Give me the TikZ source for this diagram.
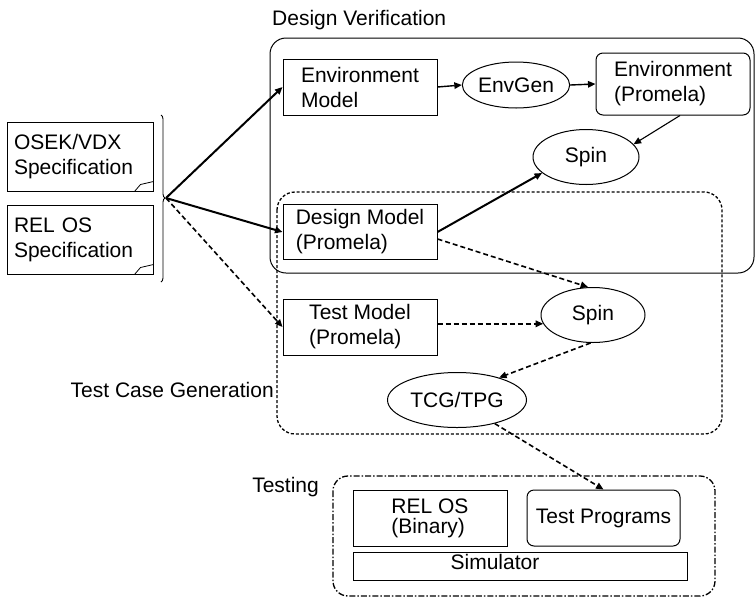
\documentclass[tikz,border=0pt]{standalone}
\usepackage{fontspec}
\setmainfont{Liberation Sans}
\usetikzlibrary{shapes.geometric,arrows.meta,decorations.pathreplacing}
\begin{document}
\begin{tikzpicture}[x=1pt,y=-1pt,
  font=\fontsize{21}{25}\selectfont,
  box/.style={draw, line width=1pt, rectangle, inner sep=0pt, align=left},
  rbox/.style={box, rounded corners=7pt},
  ell/.style={draw, line width=1pt, ellipse, inner sep=0pt},
  spec/.style={draw, line width=1pt, rectangle, inner sep=0pt, align=left, text width=132pt, minimum width=146pt, minimum height=69pt},
  arr/.style={-{Triangle[length=7.5pt,width=6.5pt]}, line width=1.4pt},
  thick arr/.style={arr, line width=2pt},
  dash arr/.style={arr, line width=1.6pt, dash pattern=on 5pt off 3pt},
  lbl/.style={inner sep=0pt}
]
\useasboundingbox (0,0) rectangle (755,598);

% containers
\draw[line width=1pt, rounded corners=16pt] (270,38) rectangle (754,273);
\draw[line width=1.3pt, rounded corners=18pt, dash pattern=on 3pt off 2pt] (277,192) rectangle (722,434);
\draw[line width=1.3pt, rounded corners=15pt, dash pattern=on 6pt off 2pt on 1.5pt off 2pt] (333,476) rectangle (715,596);

% labels
\node[lbl, anchor=west] (dvlbl) at (272,20) {Design Verification};
\node[lbl, anchor=east] (tcglbl) at (274,390) {Test Case Generation};
\node[lbl, anchor=east] (testlbl) at (319,487) {Testing};

% spec boxes
\node[spec] (s1) at (80,156.5) {OSEK/VDX\\Specification};
\node[spec] (s2) at (80,239.5) {REL OS\\Specification};
\draw[line width=0.8pt] (s1.south east) ++(-19,0) -- ++(6,-7) -- ++(13,-3);
\draw[line width=0.8pt] (s2.south east) ++(-19,0) -- ++(6,-7) -- ++(13,-3);

% brace
\draw[line width=0.9pt, decorate, decoration={brace, amplitude=4pt, aspect=0.497}] (161,115) -- (161,282);
\coordinate (bt) at (166,198);

% design verification nodes
\node[box, minimum width=154pt, minimum height=56pt] (envmodel) at (360,87) {Environment\\Model};
\node[ell, minimum width=105pt, minimum height=46pt] (envgen) at (516,85) {EnvGen};
\node[rbox, minimum width=154pt, minimum height=62pt] (envprom) at (673,84) {Environment\\(Promela)};
\node[ell, minimum width=106pt, minimum height=55pt] (spin1) at (586,157) {Spin};
\node[box, minimum width=154pt, minimum height=55pt] (designmodel) at (360,232) {Design Model\\(Promela)};

% test case generation nodes
\node[ell, minimum width=104pt, minimum height=55pt] (spin2) at (593,315) {Spin};
\node[box, minimum width=154pt, minimum height=56pt] (testmodel) at (360,327) {Test Model\\(Promela)};
\node[ell, minimum width=139pt, minimum height=55pt] (tcg) at (457,400) {TCG/TPG};

% testing nodes
\node[box, minimum width=154pt, minimum height=56pt, font=\fontsize{21}{20}\selectfont] (relos) at (430,518) {REL OS\\(Binary)};
\node[rbox, minimum width=153pt, minimum height=56pt] (testprog) at (603.5,518) {Test Programs};
\node[box, minimum width=334pt, minimum height=28pt] (sim) at (520,566) {};
\node[lbl] (simtext) at (495,562) {Simulator};

% connectors
\draw[thick arr] (bt) -- (envmodel.west);
\draw[thick arr] (bt) -- (designmodel.west);
\draw[dash arr] (bt) -- (testmodel.west);
\draw[arr] (envmodel.east) -- (envgen.west);
\draw[arr] (envgen.east) -- (envprom.west);
\draw[arr, line width=1.1pt] ([xshift=7pt]envprom.south) -- (spin1.15);
\draw[thick arr] (designmodel.east) -- (spin1.200);
\draw[dash arr] ([yshift=-7pt]designmodel.east) -- (spin2.100);
\draw[dash arr] (testmodel.east |- spin2.190) -- (spin2.190);
\draw[dash arr] (spin2.265) -- (tcg.28);
\draw[dash arr] (tcg.-32) -- (testprog.north);
\end{tikzpicture}
\end{document}
